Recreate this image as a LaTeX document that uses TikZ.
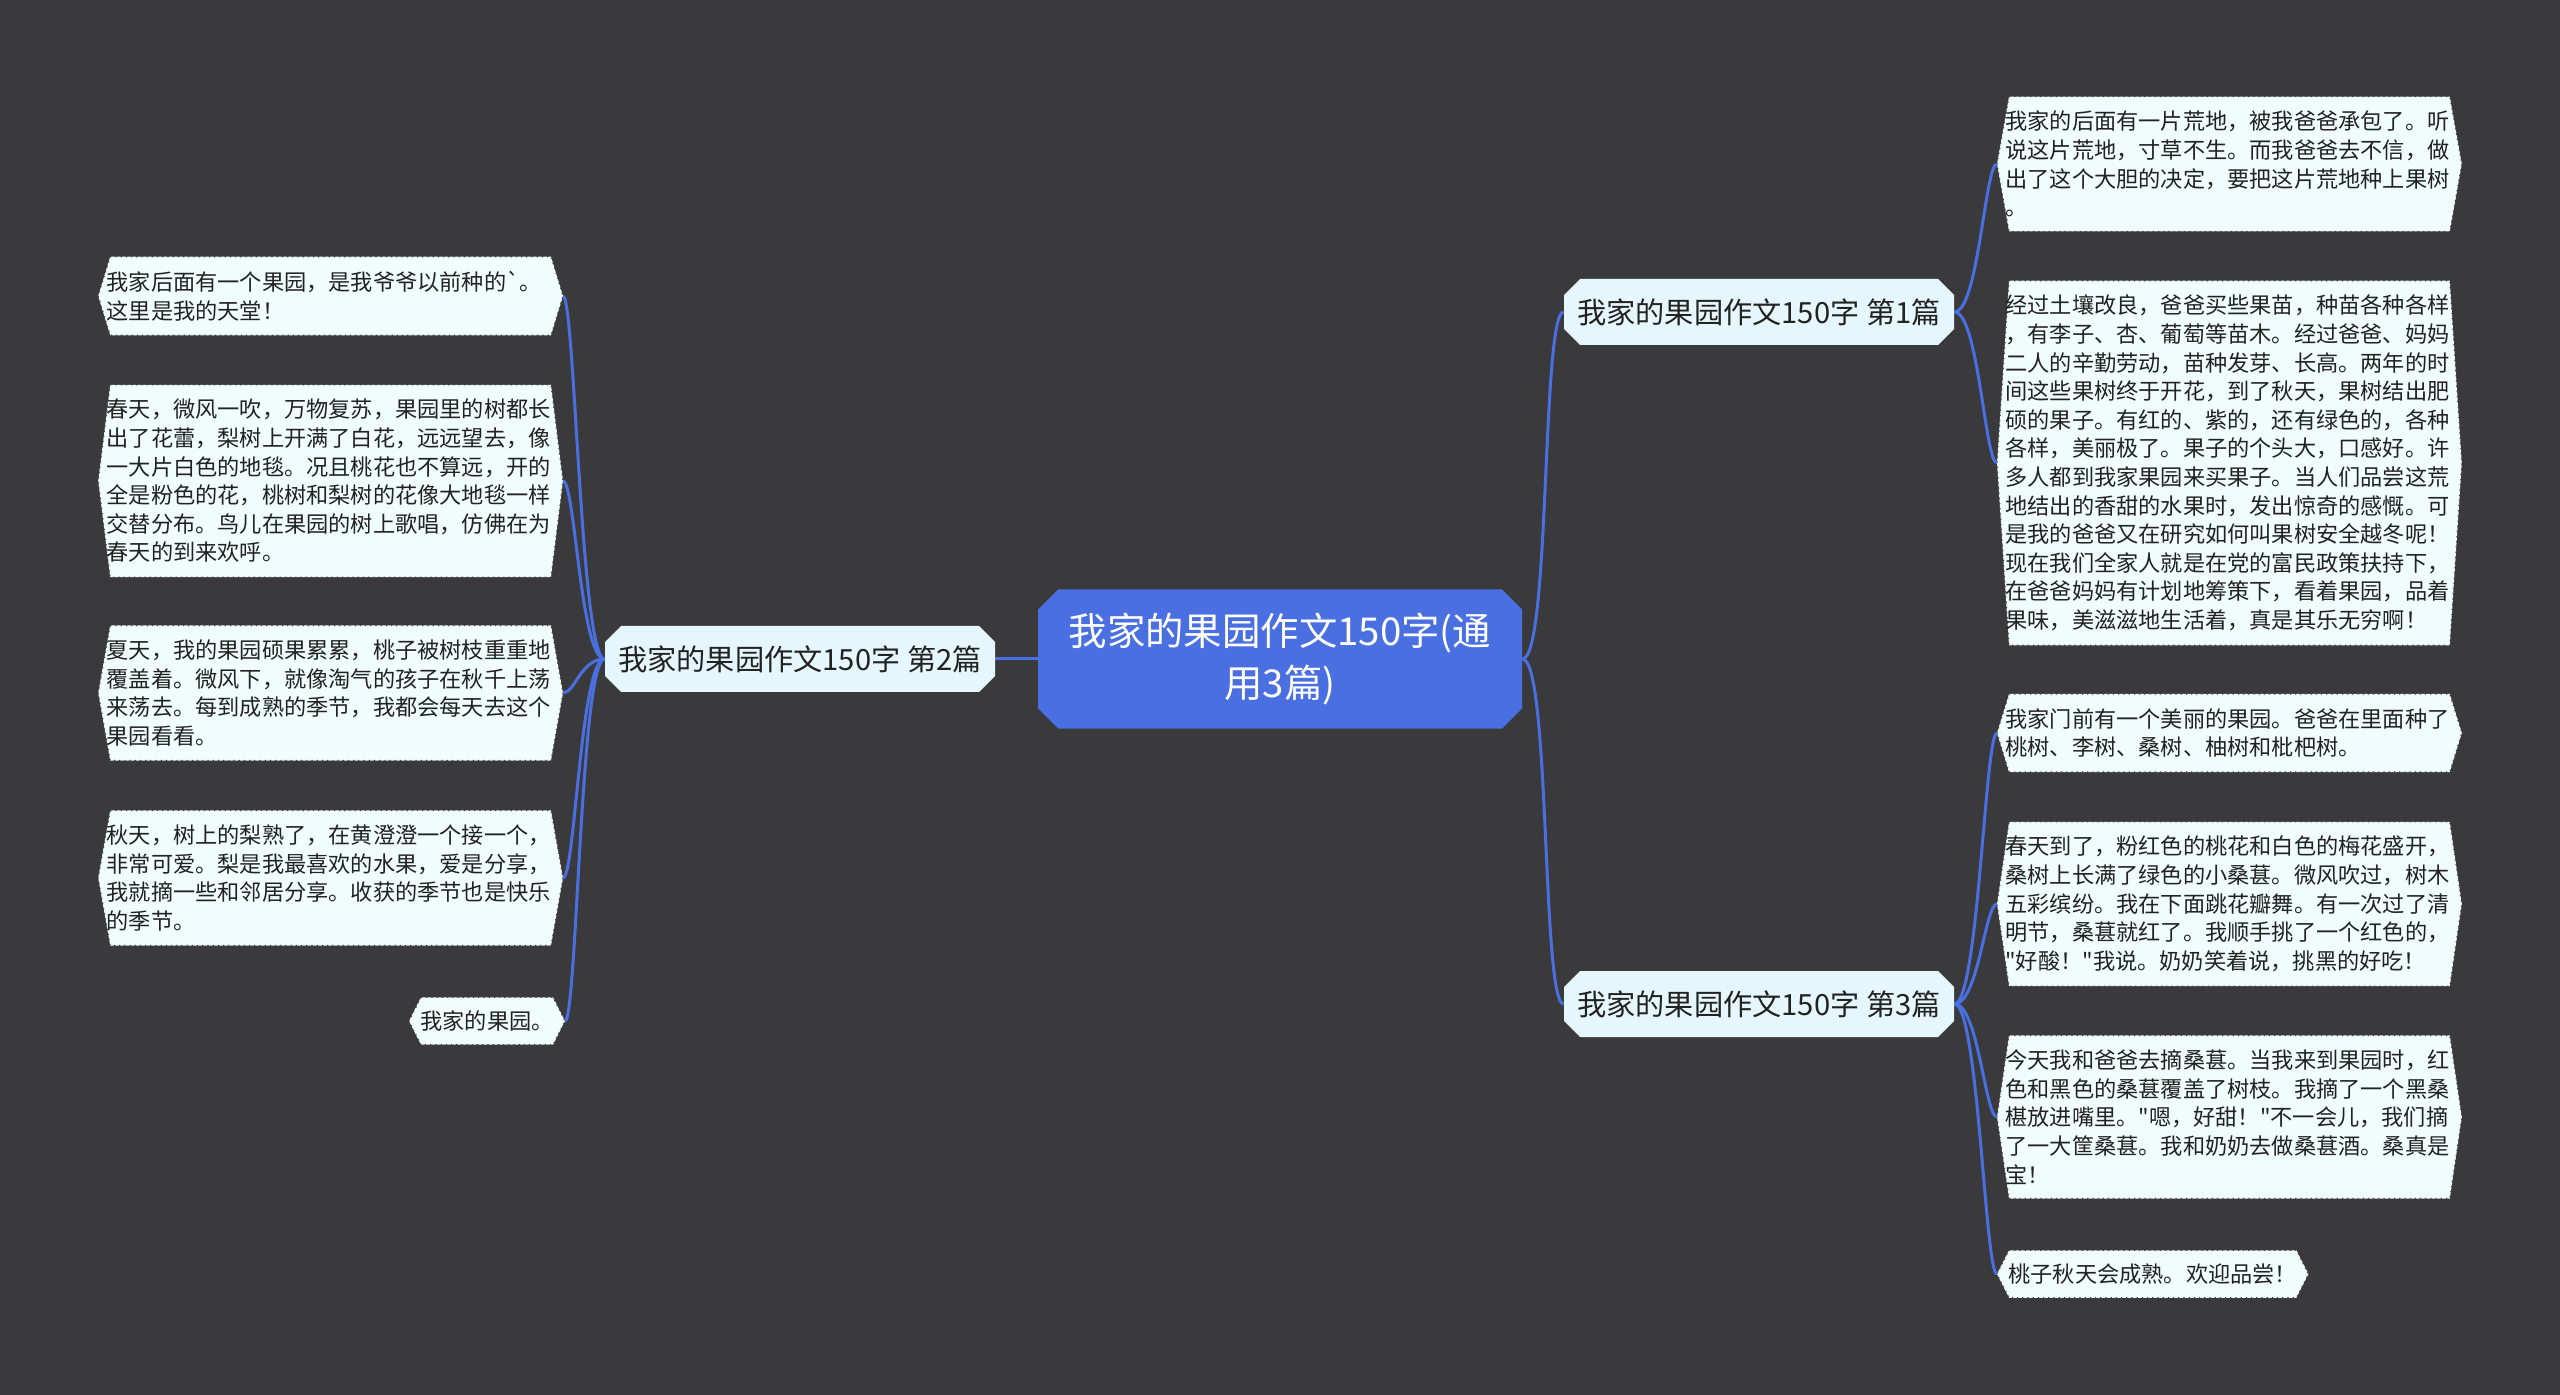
\documentclass[tikz,border=0pt]{standalone}
\usepackage{fontspec}
\newfontfamily\cjk{Noto Sans CJK SC}
\usetikzlibrary{shapes.misc}

\definecolor{bgdark}{RGB}{58,58,60}
\definecolor{rootblue}{RGB}{74,111,224}
\definecolor{topicfill}{RGB}{229,247,252}
\definecolor{leaffill}{RGB}{240,252,253}
\definecolor{inktext}{RGB}{34,34,34}

\pgfdeclarelayer{bg}
\pgfdeclarelayer{boxes}
\pgfsetlayers{bg,boxes,main}

% hexagon outline behind a text node
\newcommand{\leafedge}[1]{%
  \path[leafline] ([xshift=6pt]#1.north west) -- ([xshift=-6pt]#1.north east) -- (#1.east)
    -- ([xshift=-6pt]#1.south east) -- ([xshift=6pt]#1.south west) -- (#1.west) -- cycle;}

\begin{document}
\begin{tikzpicture}[
  x=0.5pt, y=-0.5pt,
  every node/.style={font=\cjk},
  root/.style={chamfered rectangle, chamfered rectangle xsep=5pt, chamfered rectangle ysep=5pt,
    fill=rootblue, text=white, minimum width=242pt, minimum height=69.5pt, inner sep=0pt,
    align=center, font=\cjk\fontsize{19.2pt}{26pt}\selectfont},
  topic/.style={chamfered rectangle, chamfered rectangle xsep=4pt, chamfered rectangle ysep=4pt,
    fill=topicfill, text=inktext, minimum width=195pt, minimum height=33pt, inner sep=0pt,
    font=\cjk\fontsize{14.6pt}{16pt}\selectfont},
  leaf/.style={text width=224pt, align=left, inner xsep=4pt, inner ysep=7pt, text=inktext,
    font=\cjk\fontsize{11.1pt}{14.3pt}\selectfont},
  tip/.style={align=left, inner xsep=5.5pt, inner ysep=6.5pt, text=inktext,
    font=\cjk\fontsize{11.1pt}{14.3pt}\selectfont},
  leafline/.style={fill=leaffill, draw=black!75, dotted, line width=0.6pt},
  link/.style={draw=rootblue, line width=1.5pt}
]
\useasboundingbox (0,0) rectangle (2560,1395);
\begin{pgfonlayer}{bg}
  \fill[bgdark] (0,0) rectangle (2560,1395);
\end{pgfonlayer}

% Centre and the three essays
\node[root] (root) at (1280,659) {我家的果园作文150字(通\\用3篇)};
\node[topic] (essay1) at (1759,312) {我家的果园作文150字 第1篇};
\node[topic] (essay2) at (800,659) {我家的果园作文150字 第2篇};
\node[topic] (essay3) at (1759,1004) {我家的果园作文150字 第3篇};

% Essay 1
\node[leaf, anchor=west] (wasteland) at (1997,164)
  {我家的后面有一片荒地，被我爸爸承包了。听\\说这片荒地，寸草不生。而我爸爸去不信，做\\出了这个大胆的决定，要把这片荒地种上果树\\。};
\node[leaf, anchor=west] (seedlings) at (1997,463)
  {经过土壤改良，爸爸买些果苗，种苗各种各样\\，有李子、杏、葡萄等苗木。经过爸爸、妈妈\\二人的辛勤劳动，苗种发芽、长高。两年的时\\间这些果树终于开花，到了秋天，果树结出肥\\硕的果子。有红的、紫的，还有绿色的，各种\\各样，美丽极了。果子的个头大，口感好。许\\多人都到我家果园来买果子。当人们品尝这荒\\地结出的香甜的水果时，发出惊奇的感慨。可\\是我的爸爸又在研究如何叫果树安全越冬呢！\\现在我们全家人就是在党的富民政策扶持下，\\在爸爸妈妈有计划地筹策下，看着果园，品着\\果味，美滋滋地生活着，真是其乐无穷啊！};

% Essay 3
\node[leaf, anchor=west] (gate) at (1997,733)
  {我家门前有一个美丽的果园。爸爸在里面种了\\桃树、李树、桑树、柚树和枇杷树。};
\node[leaf, anchor=west] (blossom) at (1997,904)
  {春天到了，粉红色的桃花和白色的梅花盛开，\\桑树上长满了绿色的小桑葚。微风吹过，树木\\五彩缤纷。我在下面跳花瓣舞。有一次过了清\\明节，桑葚就红了。我顺手挑了一个红色的，\\"好酸！"我说。奶奶笑着说，挑黑的好吃！};
\node[leaf, anchor=west] (mulberry) at (1997,1117)
  {今天我和爸爸去摘桑葚。当我来到果园时，红\\色和黑色的桑葚覆盖了树枝。我摘了一个黑桑\\椹放进嘴里。"嗯，好甜！"不一会儿，我们摘\\了一大筐桑葚。我和奶奶去做桑葚酒。桑真是\\宝！};
\node[tip, anchor=west] (peach) at (1997,1274) {桃子秋天会成熟。欢迎品尝！};

% Essay 2
\node[leaf, anchor=east] (grandpa) at (563,296)
  {我家后面有一个果园，是我爷爷以前种的`。\\这里是我的天堂！};
\node[leaf, anchor=east] (spring) at (563,481)
  {春天，微风一吹，万物复苏，果园里的树都长\\出了花蕾，梨树上开满了白花，远远望去，像\\一大片白色的地毯。况且桃花也不算远，开的\\全是粉色的花，桃树和梨树的花像大地毯一样\\交替分布。鸟儿在果园的树上歌唱，仿佛在为\\春天的到来欢呼。};
\node[leaf, anchor=east] (summer) at (563,693)
  {夏天，我的果园硕果累累，桃子被树枝重重地\\覆盖着。微风下，就像淘气的孩子在秋千上荡\\来荡去。每到成熟的季节，我都会每天去这个\\果园看看。};
\node[leaf, anchor=east] (autumn) at (563,878)
  {秋天，树上的梨熟了，在黄澄澄一个接一个，\\非常可爱。梨是我最喜欢的水果，爱是分享，\\我就摘一些和邻居分享。收获的季节也是快乐\\的季节。};
\node[tip, anchor=east] (mine) at (565,1021) {我家的果园。};

\begin{pgfonlayer}{boxes}
  \foreach \leaf in {wasteland,seedlings,gate,blossom,mulberry,peach,grandpa,spring,summer,autumn,mine}
    \leafedge{\leaf};
  % connectors
  \draw[link] (root.east) .. controls +(28,0) and +(-22,0) .. (essay1.west);
  \draw[link] (root.east) .. controls +(28,0) and +(-22,0) .. (essay3.west);
  \draw[link] (root.west) -- (essay2.east);
  \foreach \leaf in {wasteland,seedlings}
    \draw[link] (essay1.east) .. controls +(24,0) and +(-12,0) .. (\leaf.west);
  \foreach \leaf in {gate,blossom,mulberry,peach}
    \draw[link] (essay3.east) .. controls +(24,0) and +(-12,0) .. (\leaf.west);
  \foreach \leaf in {grandpa,spring,summer,autumn,mine}
    \draw[link] (essay2.west) .. controls +(-24,0) and +(12,0) .. (\leaf.east);
\end{pgfonlayer}
\end{tikzpicture}
\end{document}
